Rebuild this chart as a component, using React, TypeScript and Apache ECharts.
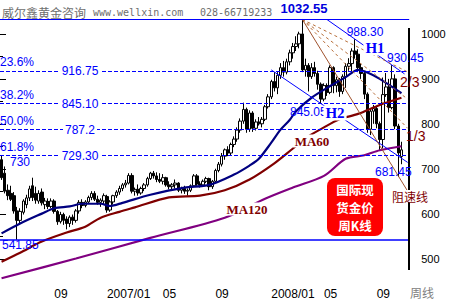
import React, { useEffect, useRef } from "react";
import * as echarts from "echarts";

// ---------- categories: weekly bars (Monday of each week) ----------
const FIRST_WEEK = Date.UTC(2006, 4, 8);
const WEEK_COUNT = 132;
const weeks: string[] = [];
for (let i = 0; i < WEEK_COUNT; i++) {
  const d = new Date(FIRST_WEEK + i * 7 * 86400000);
  weeks.push(
    d.getUTCFullYear() + "/" + String(d.getUTCMonth() + 1).padStart(2, "0") + "/" + String(d.getUTCDate()).padStart(2, "0")
  );
}

// ---------- weekly OHLC ----------
const opens = [
  720, 690, 652, 645, 640, 606, 585, 603, 620, 635,
  662, 645, 628, 648, 620, 627, 616, 628, 605, 582,
  598, 588, 578, 592, 585, 606, 625, 618, 626, 636,
  645, 632, 625, 628, 638, 608, 626, 640, 648, 656,
  664, 668, 685, 650, 654, 646, 656, 664, 678, 690,
  684, 676, 672, 680, 664, 660, 664, 668, 652, 656,
  650, 652, 662, 684, 666, 664, 672, 678, 660, 672,
  696, 710, 728, 742, 735, 754, 766, 786, 806, 832,
  788, 824, 790, 804, 800, 810, 838, 860, 894, 880,
  908, 925, 915, 938, 958, 972, 978, 1000, 920, 930,
  905, 925, 912, 888, 855, 885, 870, 925, 885, 898,
  872, 905, 928, 934, 962, 955, 925, 912, 866, 788,
  828, 834, 800, 765, 865, 882, 836, 900, 795, 727,
];
const highs = [
  730, 705, 665, 662, 648, 615, 612, 632, 642, 662,
  680, 660, 652, 656, 635, 634, 634, 632, 608, 604,
  602, 594, 596, 598, 610, 630, 632, 630, 640, 650,
  650, 640, 634, 645, 642, 630, 642, 652, 662, 668,
  675, 690, 690, 658, 665, 660, 668, 682, 693, 695,
  692, 690, 688, 682, 672, 668, 676, 670, 660, 662,
  656, 665, 688, 688, 672, 676, 682, 680, 675, 700,
  715, 735, 745, 750, 758, 772, 792, 812, 847, 836,
  830, 828, 810, 815, 815, 842, 866, 898, 915, 915,
  935, 940, 945, 965, 980, 995, 1005, 1032.55, 945, 935,
  935, 938, 918, 892, 890, 890, 930, 928, 905, 902,
  910, 935, 946, 968, 988.3, 966, 935, 915, 870, 835,
  842, 840, 805, 903, 913, 900, 930.45, 910, 800, 760,
];
const lows = [
  675, 645, 630, 628, 600, 541.85, 575, 598, 612, 628,
  628, 622, 622, 618, 610, 610, 612, 600, 575, 578,
  575, 565, 570, 575, 580, 600, 612, 614, 622, 630,
  628, 620, 615, 620, 602, 604, 620, 635, 642, 650,
  658, 665, 645, 640, 640, 642, 650, 660, 675, 678,
  670, 668, 665, 660, 654, 652, 656, 648, 645, 644,
  640, 648, 660, 662, 658, 660, 668, 652, 655, 670,
  692, 705, 720, 728, 730, 748, 760, 780, 800, 780,
  782, 782, 785, 796, 792, 806, 834, 855, 872, 866,
  900, 905, 910, 930, 945, 962, 968, 915, 905, 872,
  900, 905, 876, 845.05, 850, 862, 866, 868, 870, 860,
  866, 880, 918, 915, 945, 915, 900, 855, 780, 775,
  800, 790, 740, 745, 860, 825, 832, 788, 681.45, 710,
];
const closes = [
  680, 650, 640, 632, 606, 585, 605, 628, 635, 655,
  636, 630, 645, 624, 628, 616, 628, 605, 582, 598,
  585, 578, 592, 585, 606, 625, 618, 626, 636, 645,
  632, 625, 630, 640, 608, 626, 640, 648, 656, 664,
  668, 685, 650, 654, 646, 656, 664, 678, 690, 684,
  676, 672, 680, 664, 660, 664, 668, 652, 656, 650,
  652, 662, 684, 666, 664, 672, 678, 660, 672, 696,
  710, 728, 742, 735, 754, 766, 786, 806, 832, 788,
  824, 790, 804, 800, 810, 838, 860, 894, 880, 908,
  925, 915, 938, 958, 972, 978, 1000, 920, 930, 905,
  925, 912, 888, 855, 885, 870, 925, 885, 898, 872,
  905, 928, 934, 962, 955, 925, 912, 866, 788, 828,
  834, 800, 765, 865, 882, 836, 900, 795, 735, 742,
];

// ---------- moving averages ([week index, price]) ----------
const maBluePts = [
  [0, 556], [6, 578], [13, 600], [17, 612], [22, 616], [26, 622], [32, 622], [35, 617],
  [39, 624], [48, 642], [59, 658], [67, 664], [75, 687], [80, 707], [83, 722], [87, 758],
  [90, 787], [93, 809], [95, 828], [100, 858], [106, 884], [111, 904], [115, 920],
  [118, 914], [122, 900], [129, 868],
];
const ma60Pts = [
  [0, 493], [6, 513], [13, 538], [21, 558], [27, 571], [32, 591], [38, 604], [43, 614],
  [54, 636], [64, 640], [72, 652], [80, 676], [88, 712], [94, 745], [99, 772], [104, 792],
  [109, 810], [115, 822], [122, 842], [129, 858],
];
const ma120Pts = [
  [0, 456], [24, 500], [48, 546], [72, 591], [85, 633], [94, 658], [104, 684], [111, 722],
  [117, 730], [122, 741], [129, 750],
];

// ---------- levels & trend lines ----------
const peakLevel = 1032.55;
const lowLevel = 541.85;
const fibLevels = [916.75, 845.1, 787.2, 729.3];
const fibValueLabels = ["916.75", "845.10", "787.2", "729.30"];
const fibPctLabels = ["23.6%", "38.2%", "50.0%", "61.8%"];
const h1Line = [[105, 1032], [130, 911]];
const h2Line = [[87, 920], [131, 714]];
const fanOrigin = [97, 1032.55];
const fanDashedEnds = [[131, 915.5], [131, 855], [131, 790]];
const fanSolidEnd = [131, 650];
const yTicks = { min: 500, max: 1000, step: 100 };
const boxLines = ["国际现", "货金价", "周K线"];

function buildOption() {
  const candleData = opens.map((o, i) => [o, closes[i], lows[i], highs[i]]);
  const lineSeries = (data: number[][], color: string, width: number, type: any, smooth = false) => ({
    type: "line",
    xAxisIndex: 0,
    yAxisIndex: 0,
    data,
    symbol: "none",
    smooth: smooth ? 0.3 : false,
    silent: true,
    lineStyle: { color, width, type },
  });

  const blue = "#0000ff";
  const dred = "#800000";
  const sans = '"Liberation Sans", Arial, sans-serif';
  const serif = '"Liberation Serif", "Times New Roman", serif';
  const cjk = '"Noto Sans CJK SC", sans-serif';
  const txt = (x: number, y: number, text: string, font: string, fill: string, align = "left", bg?: string, lineHeight?: number) => ({
    type: "text",
    x,
    y,
    z: 100,
    style: {
      text,
      font,
      fill,
      align,
      verticalAlign: "middle",
      textAlign: align,
      textVerticalAlign: "middle",
      ...(lineHeight ? { lineHeight } : {}),
      ...(bg ? { backgroundColor: bg, padding: [0, 2] } : {}),
    },
  });

  const fibPixelY = (v: number) => 11.5 + (1050 - v) * 0.45;

  const graphic: any[] = [
    { type: "line", z: 50, shape: { x1: 409, y1: 28, x2: 409, y2: 270 }, style: { stroke: "#000", lineWidth: 2 } },
    txt(2, 12, "威尔鑫黄金咨询", "12px " + cjk, "#6e6e6e"),
    txt(93, 12, "www.wellxin.com", '10px "DejaVu Sans Mono", monospace', "#6e6e6e"),
    txt(200, 12, "028-66719233", '10px "DejaVu Sans Mono", monospace', "#6e6e6e"),
    txt(304, 8, "1032.55", "bold 13px " + sans, "#0000dd", "center"),
    txt(10, 162, "730", "12px " + sans, blue),
    txt(2, 245, "541.85", "12px " + sans, blue),
    txt(365, 32, "988.30", "12px " + sans, blue, "center"),
    txt(387, 58, "930.45", "12px " + sans, blue),
    txt(290, 112, "845.05", "12px " + sans, blue),
    txt(375, 172, "681.45", "12px " + sans, blue),
    txt(375, 48, "H1", "bold 15px " + serif, blue, "center", "#fff"),
    txt(335, 113, "H2", "bold 15px " + serif, blue, "center", "#fff"),
    txt(312, 141, "MA60", "bold 13px " + serif, dred, "center", "#fff"),
    txt(247, 209, "MA120", "bold 13px " + serif, dred, "center", "#fff"),
    txt(400, 82, "2/3", "14px " + sans, dred),
    txt(406, 136, "1/3", "14px " + sans, dred),
    txt(410, 196, "阻速线", "12px " + cjk, dred, "center", "#fff"),
    { type: "rect", z: 90, shape: { x: 327, y: 178, width: 56, height: 58, r: 8 }, style: { fill: "#ff0000" } },
    txt(410, 292, "周线", "12px " + cjk, "#808080", "left", undefined, 12),
  ];
  boxLines.forEach((t, i) => {
    graphic.push(txt(355, 189 + i * 18, t, "bold 12.5px " + cjk, "#fff", "center", undefined, 12.5));
  });
  fibLevels.forEach((v, i) => {
    const y = fibPixelY(v);
    graphic.push(txt(80, y, fibValueLabels[i], "12px " + sans, blue, "center", "#fff"));
    graphic.push(txt(0, y - 9, fibPctLabels[i], "12px " + sans, blue));
  });

  return {
    animation: false,
    backgroundColor: "#fff",
    grid: [
      { left: 0, top: 11.5, width: 409.2, height: 270 },
      { left: 0, top: 34, width: 409.2, height: 225 },
    ],
    xAxis: [
      {
        type: "category",
        gridIndex: 0,
        data: weeks,
        boundaryGap: true,
        axisLine: { show: false },
        axisTick: { show: false },
        splitLine: { show: false },
        axisLabel: {
          margin: 7,
          align: "left",
          fontSize: 12,
          color: "#000",
          fontFamily: sans,
          interval: (index: number, value: string) => {
            const m = Number(value.slice(5, 7));
            if (m !== 1 && m !== 5 && m !== 9) return false;
            if (index === 0) return false;
            return weeks[index - 1].slice(5, 7) !== value.slice(5, 7);
          },
          formatter: (value: string) => {
            const m = value.slice(5, 7);
            return m === "01" ? value.slice(0, 4) + "/01" : m;
          },
        },
      },
      { type: "value", gridIndex: 1, show: false, min: 0, max: 1 },
    ],
    yAxis: [
      { type: "value", gridIndex: 0, min: 450, max: 1050, show: false, splitLine: { show: false } },
      {
        type: "value",
        gridIndex: 1,
        position: "right",
        min: yTicks.min,
        max: yTicks.max,
        interval: yTicks.step,
        axisLine: { show: false },
        axisTick: { show: true, length: 6, lineStyle: { color: "#000", width: 1 } },
        minorTick: { show: true, splitNumber: 2, length: 3, lineStyle: { color: "#000", width: 1 } },
        splitLine: { show: false },
        axisLabel: {
          margin: 12,
          fontSize: 11,
          color: "#000",
          fontFamily: sans,
          formatter: (v: number) => String(v),
        },
      },
    ],
    series: [
      {
        type: "candlestick",
        xAxisIndex: 0,
        yAxisIndex: 0,
        data: candleData,
        barWidth: 3,
        silent: true,
        itemStyle: { color: "#fff", color0: "#000", borderColor: "#000", borderColor0: "#000", borderWidth: 1 },
        markLine: {
          silent: true,
          symbol: ["none", "none"],
          label: { show: false },
          data: [
            { yAxis: peakLevel, lineStyle: { color: blue, width: 1, type: "solid" } },
            { yAxis: lowLevel, lineStyle: { color: blue, width: 1.5, type: "solid" } },
            ...fibLevels.map((v) => ({ yAxis: v, lineStyle: { color: blue, width: 1, type: [4, 2] } })),
          ],
        },
      },
      lineSeries(ma120Pts, "#800080", 2.2, "solid", true),
      lineSeries(ma60Pts, "#800000", 2.2, "solid", true),
      lineSeries(maBluePts, "#000080", 2.2, "solid", true),
      lineSeries(h1Line, blue, 1, "solid"),
      lineSeries(h2Line, blue, 1, "solid"),
      ...fanDashedEnds.map((e) => lineSeries([fanOrigin, e], "#b8703c", 1, [3, 3])),
      lineSeries([fanOrigin, fanSolidEnd], "#a0522d", 1, "solid"),
    ],
    graphic,
  };
}

export default function App() {
  const ref = useRef<HTMLDivElement>(null);
  useEffect(() => {
    const chart = echarts.init(ref.current!, null, { renderer: "svg" });
    chart.setOption(buildOption() as any);
    return () => chart.dispose();
  }, []);
  return <div ref={ref} style={{ position: "fixed", left: 0, top: 0, width: 450, height: 300 }} />;
}
